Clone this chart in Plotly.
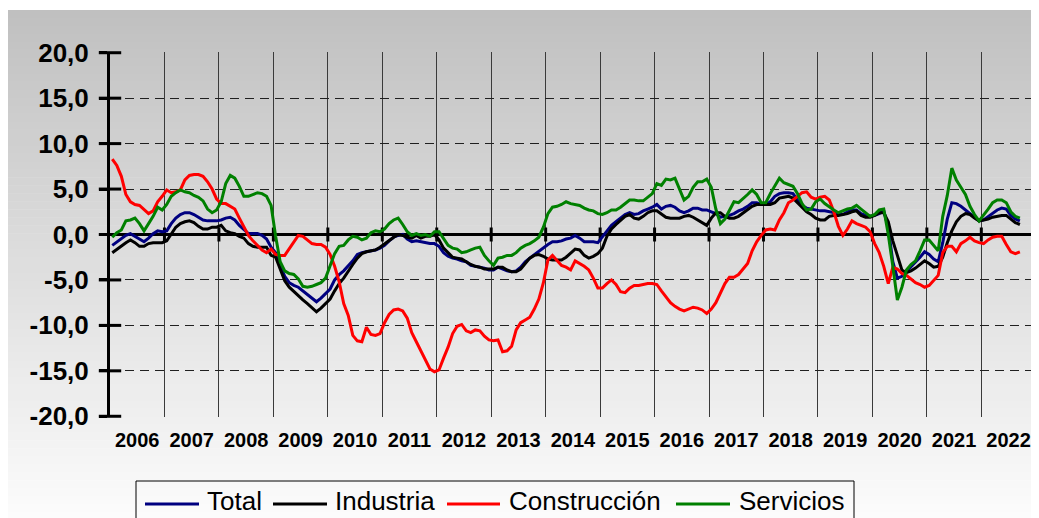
import plotly.graph_objects as go

# ---------------- data (monthly, Jan 2006 onwards) ----------------
years = [str(y) for y in range(2006, 2023)]
ytick_vals = [20, 15, 10, 5, 0, -5, -10, -15, -20]
ytick_text = ["20,0", "15,0", "10,0", "5,0", "0,0", "-5,0", "-10,0", "-15,0", "-20,0"]
series_names = ["Total", "Industria", "Construcción", "Servicios"]
series_colors = ["#000080", "#000000", "#ff0000", "#008000"]

total = [
    -1.2, -0.8, -0.4, -0.1, 0.1, -0.2, -0.5, -0.8, -0.4, 0.1, 0.4, 0.3, 0.4, 1.2, 1.8, 2.2, 2.4, 2.4, 2.2, 1.9,
    1.6, 1.5, 1.5, 1.5, 1.6, 1.8, 1.9, 1.6, 1.0, 0.5, 0.1, 0.1, 0.1, -0.1, -0.5, -1.4,
    -2.0, -3.4, -4.6, -5.3, -5.6, -5.8, -6.2, -6.6, -7.0, -7.4, -7.0, -6.5, -6.0, -5.0, -4.4, -4.0, -3.5, -2.9,
    -2.2, -2.0, -1.9, -1.8, -1.7, -1.5, -1.2, -0.7, -0.3, -0.1, 0.0, -0.5, -0.8, -0.7, -0.8, -0.9, -1.0, -1.0,
    -1.3, -2.0, -2.4, -2.6, -2.7, -2.9, -3.0, -3.4, -3.5, -3.6, -3.7, -3.9, -3.9, -3.6, -3.8, -4.0, -4.1, -4.0,
    -3.6, -3.0, -2.6, -2.2, -1.8, -1.5, -1.1, -0.8, -0.8, -0.7, -0.5, -0.4, -0.1, -0.4, -0.8, -0.8, -0.8,
    -0.9, -0.3, 0.4, 1.0, 1.4, 1.8, 2.2, 2.4, 2.2, 2.3, 2.6, 2.8, 3.0, 3.3, 2.8, 3.1, 3.2, 3.0, 2.6, 2.4,
    2.6, 2.9, 2.9, 2.7, 2.7, 2.5, 2.3, 1.9, 2.0, 2.1, 2.3, 2.6, 2.8, 3.1, 3.5,
    3.5, 3.3, 3.3, 3.6, 4.2, 4.5, 4.6, 4.6, 4.5, 3.8, 3.2, 2.9, 2.8, 2.7, 2.6, 2.6, 2.5, 2.4, 2.3, 2.2,
    2.5, 2.7, 2.7, 2.3, 2.1, 2.0, 2.1, 2.3, 2.6, 0.7, -3.0, -4.8, -4.6, -4.1, -3.6, -3.1, -2.5, -1.9, -2.2, -2.7,
    -3.0, -0.9, 1.7, 3.5, 3.4, 3.1, 2.7, 2.4, 1.9, 1.5, 1.6, 2.0, 2.3, 2.7, 2.9, 2.8, 2.1, 1.7, 1.5,
]

industria = [
    -2.0, -1.6, -1.2, -0.9, -0.6, -0.9, -1.3, -1.3, -1.0, -0.9, -0.9, -0.9, -0.7, 0.1, 0.8, 1.2, 1.4, 1.5, 1.3, 0.9,
    0.6, 0.6, 0.8, 0.8, 1.0, 0.4, 0.2, 0.1, -0.2, -0.4, -1.0, -1.3, -1.4, -1.4, -1.4, -2.3,
    -2.5, -3.8, -5.1, -5.8, -6.3, -6.7, -7.2, -7.6, -8.1, -8.5, -8.1, -7.6, -7.1, -6.2, -5.4, -4.8, -4.0, -3.3,
    -2.6, -2.1, -1.9, -1.8, -1.7, -1.4, -1.0, -0.7, -0.3, 0.0, -0.1, -0.3, -0.4, -0.1, -0.4, -0.2, -0.2, 0.0,
    -0.6, -1.5, -2.0, -2.5, -2.6, -2.7, -3.0, -3.3, -3.5, -3.6, -3.8, -3.8, -3.8, -3.6, -3.6, -3.9, -4.1, -4.1,
    -3.8, -3.2, -2.6, -2.3, -2.2, -2.4, -2.7, -2.8, -2.8, -2.8, -2.5, -2.0, -1.6, -1.7, -2.3, -2.6, -2.4,
    -2.1, -1.5, -0.2, 0.6, 1.1, 1.6, 2.0, 2.2, 1.8, 1.7, 2.0, 2.4, 2.6, 2.6, 2.2, 1.9, 1.8, 1.8, 1.8, 2.0,
    2.1, 1.9, 1.6, 1.3, 1.0, 1.8, 2.4, 2.4, 2.0, 1.8, 1.8, 2.0, 2.4, 2.8, 3.1,
    3.3, 3.3, 3.3, 3.3, 3.5, 4.0, 4.1, 4.2, 4.0, 3.5, 3.0, 2.5, 2.2, 1.8, 1.6, 1.6, 2.0, 2.1, 2.1, 2.2,
    2.3, 2.5, 2.6, 2.1, 1.9, 1.9, 2.1, 2.4, 2.4, 1.4, -0.7, -2.3, -3.9, -4.2, -4.0, -3.7, -3.3, -2.9, -3.2, -3.6,
    -3.5, -2.5, -0.9, 0.4, 1.4, 2.0, 2.3, 2.2, 1.8, 1.5, 1.6, 1.7, 1.9, 2.0, 2.1, 2.1, 1.7, 1.3, 1.1,
]

construccion = [
    8.3, 7.6, 6.4, 4.4, 3.6, 3.3, 3.2, 2.7, 2.3, 2.6, 3.6, 4.2, 4.9, 4.6, 4.7, 4.9, 6.0, 6.5, 6.6, 6.6,
    6.4, 5.8, 5.0, 3.9, 3.4, 3.4, 3.1, 2.8, 1.8, 0.8, -0.1, -0.7, -1.2, -1.7, -2.0, -1.6,
    -2.2, -2.3, -2.3, -1.6, -0.9, -0.1, -0.2, -0.6, -1.0, -1.1, -1.1, -1.4, -2.2, -3.5, -5.2, -7.6, -8.9, -11.1,
    -11.7, -11.8, -10.2, -11.0, -11.1, -10.9, -9.7, -8.8, -8.3, -8.2, -8.4, -9.2, -10.8, -11.8, -12.8, -13.9, -14.8, -15.1,
    -14.9, -13.6, -12.4, -10.9, -10.1, -9.9, -10.6, -10.8, -10.5, -10.6, -11.2, -11.6, -11.7, -11.6, -12.9, -12.8, -12.3, -10.5,
    -9.7, -9.4, -9.1, -8.2, -7.1, -5.3, -2.8, -2.3, -2.8, -3.4, -3.6, -3.9, -2.9, -3.2, -3.5, -3.9, -4.8,
    -5.9, -5.9, -5.4, -5.0, -5.5, -6.3, -6.4, -5.9, -5.6, -5.6, -5.5, -5.4, -5.4, -5.5, -6.2, -6.8, -7.5, -7.9, -8.2, -8.4,
    -8.2, -8.0, -8.1, -8.3, -8.7, -8.2, -7.5, -6.5, -5.4, -4.7, -4.7, -4.4, -3.8, -3.2, -1.8,
    -0.8, -0.1, 0.5, 0.6, 0.5, 1.6, 2.4, 3.5, 3.8, 4.2, 4.6, 4.7, 4.1, 3.9, 4.1, 4.2, 3.8, 2.5, 0.9, -0.1,
    0.6, 1.5, 1.2, 1.0, 0.8, 0.3, -1.0, -2.0, -3.5, -5.4, -3.6, -3.8, -4.3, -4.5, -4.9, -5.3, -5.5, -5.8, -5.6, -5.0,
    -4.5, -2.0, -1.3, -1.3, -1.9, -1.0, -0.7, -0.3, -0.7, -0.9, -1.0, -0.6, -0.3, -0.2, -0.2, -1.1, -1.9, -2.1, -1.9,
]

servicios = [
    -0.3, 0.2, 0.5, 1.5, 1.6, 1.8, 1.2, 0.4, 1.2, 2.0, 3.0, 2.7, 3.3, 4.2, 4.6, 4.9, 4.7, 4.6, 4.3, 4.1,
    3.7, 2.8, 2.4, 2.7, 3.6, 5.6, 6.5, 6.2, 5.3, 4.2, 4.2, 4.4, 4.6, 4.5, 4.2, 3.2,
    -0.2, -3.0, -4.0, -4.3, -4.4, -4.9, -5.7, -5.8, -5.7, -5.5, -5.3, -4.8, -3.5, -2.1, -1.3, -1.2, -0.6, -0.2,
    -0.3, -0.6, -0.4, 0.2, 0.4, 0.3, 0.6, 1.2, 1.6, 1.8, 1.1, 0.3, -0.1, 0.1, -0.1, 0.0, -0.2,
    0.3, 0.3, -0.5, -1.2, -1.5, -1.6, -2.0, -1.9, -1.7, -1.5, -1.4, -2.3, -2.9, -3.4, -2.6, -2.5, -2.3, -2.3,
    -2.0, -1.5, -1.2, -1.0, -0.7, -0.3, 0.8, 2.3, 3.0, 3.1, 3.3, 3.6, 3.4, 3.3, 3.2, 2.9, 2.7, 2.6,
    2.3, 2.2, 2.4, 2.7, 2.7, 3.0, 3.4, 3.8, 3.8, 3.7, 3.7, 4.1, 4.5, 5.6, 5.4, 6.1, 6.0, 6.2, 5.0, 3.8,
    4.2, 5.2, 5.8, 5.8, 6.1, 5.2, 2.8, 1.2, 1.7, 2.6, 3.6, 3.5, 3.9, 4.4, 4.9,
    4.4, 3.5, 3.5, 4.5, 5.4, 6.2, 5.7, 5.5, 5.3, 4.5, 3.4, 2.7, 2.8, 3.6, 3.9, 3.4, 3.0, 2.7, 2.4, 2.6,
    2.8, 2.9, 3.2, 2.8, 2.4, 2.0, 2.2, 2.7, 2.8, 0.0, -3.5, -7.2, -5.8, -3.9, -3.3, -2.9, -1.8, -0.6, -0.6, -1.2,
    -1.8, 2.0, 4.3, 7.3, 6.0, 5.2, 4.4, 3.1, 2.2, 1.5, 2.1, 2.8, 3.5, 3.8, 3.8, 3.5, 2.5, 2.0, 1.8,
]

all_series = [total, industria, construccion, servicios]

# ---------------- layout geometry ----------------
# The page body adds an 8px margin, so the figure is made 8px smaller and
# every reference pixel position is shifted by OFF.
OFF = 8
W, H = 1039 - OFF, 518 - OFF
L, T = 110 - OFF, 52 - OFF
PW, PH = 926, 365
R, B = W - L - PW, H - T - PH
FONT = "Liberation Sans, Arial, sans-serif"


def px(x):  # reference x pixel -> paper
    return (x - OFF - L) / PW


def py(y):  # reference y pixel -> paper
    return (T + PH - (y - OFF)) / PH


n_years = len(years)
boundaries = [12 * k - 0.5 for k in range(n_years + 1)]
centers = [12 * k + 5.5 for k in range(n_years)]

fig = go.Figure()

# tick marks crossing the zero axis at year boundaries
fig.add_trace(go.Scatter(
    x=boundaries[1:], y=[0] * (len(boundaries) - 1), mode="markers",
    marker=dict(symbol="line-ns", size=10, line=dict(width=3, color="black")),
    showlegend=False, hoverinfo="skip", cliponaxis=False))
# inner half of the y-axis cross ticks
fig.add_trace(go.Scatter(
    x=[boundaries[0]] * len(ytick_vals), y=ytick_vals, mode="markers",
    marker=dict(symbol="line-ew", size=16, line=dict(width=3, color="black")),
    showlegend=False, hoverinfo="skip", cliponaxis=False))

for name, color, vals in zip(series_names, series_colors, all_series):
    fig.add_trace(go.Scatter(
        x=list(range(len(vals))), y=vals, mode="lines", name=name,
        line=dict(color=color, width=3), showlegend=False))

shapes = []
# gradient background panel
n_bands = 64
top_px, bot_px, left_px = 10, 520, 7
for i in range(n_bands):
    y0 = top_px + (bot_px - top_px) * i / n_bands
    y1 = top_px + (bot_px - top_px) * (i + 1) / n_bands + 0.5
    c = int(round(192 + (252 - 192) * (i + 0.5) / n_bands))
    shapes.append(dict(type="rect", xref="paper", yref="paper", layer="below",
                       x0=px(left_px), x1=px(1045), y0=py(y1), y1=py(y0),
                       line=dict(width=0), fillcolor=f"rgb({c},{c},{c})"))

# legend box (drawn manually)
shapes.append(dict(type="rect", xref="paper", yref="paper", x0=px(136), x1=px(854),
                   y0=py(540), y1=py(481), line=dict(color="black", width=1)))
legend_lines = [(145, 199), (273, 327), (447, 500), (676, 730)]
legend_text_x = [205, 333, 507, 737]
annotations = []
for (lx0, lx1), tx, name, color in zip(legend_lines, legend_text_x, series_names, series_colors):
    shapes.append(dict(type="line", xref="paper", yref="paper", x0=px(lx0), x1=px(lx1),
                       y0=py(504), y1=py(504), line=dict(color=color, width=3)))
    annotations.append(dict(xref="paper", yref="paper", x=px(tx), y=py(484), text=name,
                            showarrow=False, xanchor="left", yanchor="top",
                            font=dict(family=FONT, size=26, color="black")))

fig.update_layout(
    width=W, height=H,
    margin=dict(l=L, r=R, t=T, b=B, pad=0),
    paper_bgcolor="white", plot_bgcolor="rgba(0,0,0,0)",
    showlegend=False, shapes=shapes, annotations=annotations,
    xaxis=dict(
        range=[boundaries[0], boundaries[-1] + 0.05], automargin=False,
        tickmode="array", tickvals=centers, ticktext=years, ticks="",
        tickfont=dict(family=FONT, size=20, color="black", weight="bold"),
        ticklabelstandoff=9,
        showgrid=False, zeroline=False, showline=False,
        minor=dict(tickmode="array", tickvals=boundaries, showgrid=True,
                   gridcolor="#3a3a3a", gridwidth=1, ticks=""),
    ),
    yaxis=dict(
        range=[-20.08, 20.08], automargin=False,
        tickmode="array", tickvals=ytick_vals, ticktext=ytick_text,
        ticks="outside", ticklen=8, tickwidth=3, tickcolor="black",
        tickfont=dict(family=FONT, size=26, color="black", weight="bold"),
        ticklabelstandoff=5,
        showline=True, linewidth=3, linecolor="black",
        showgrid=True, gridcolor="#202020", gridwidth=1, griddash="9px,6px",
        zeroline=True, zerolinecolor="black", zerolinewidth=3,
    ),
)

fig.write_html("out.html")
